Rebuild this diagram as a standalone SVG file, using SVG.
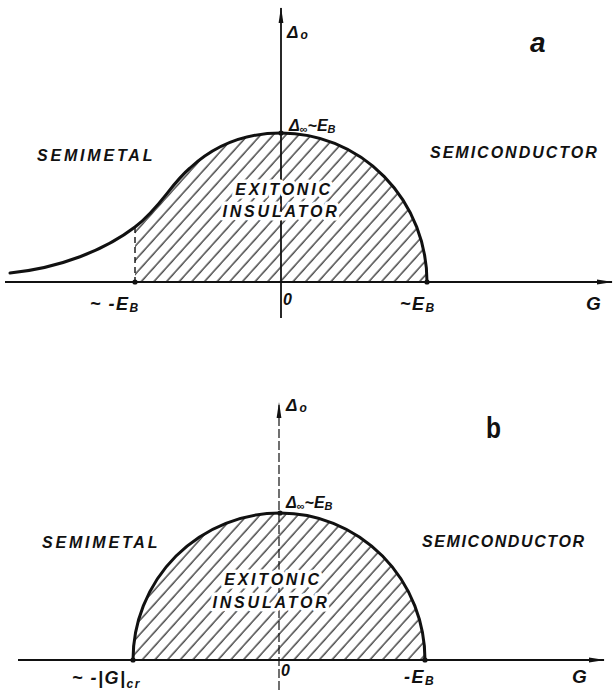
<svg xmlns="http://www.w3.org/2000/svg" width="614" height="695" viewBox="0 0 614 695">
<style>
.t{font-family:"Liberation Sans",Arial,sans-serif;font-weight:bold;font-style:italic;fill:#111}
.reg{font-size:16px;letter-spacing:2.8px}
.halo{stroke:#fff;stroke-width:7px;paint-order:stroke;stroke-linejoin:round}
.ax{stroke:#111;stroke-width:1.8;fill:none}
.cv{stroke:#111;stroke-width:3;fill:none;stroke-linecap:round}
.dot{fill:#111}
.hatch{fill:url(#h)}
</style>
<defs>
<pattern id="h" width="9.4" height="9.4" patternUnits="userSpaceOnUse" patternTransform="rotate(42)">
<line x1="2" y1="0" x2="2" y2="9.4" stroke="#1a1a1a" stroke-width="1.2"/>
</pattern>
<marker id="arr" viewBox="0 0 16 6" markerWidth="16" markerHeight="6" refX="15" refY="3" orient="auto" markerUnits="userSpaceOnUse">
<path d="M0,0.6 L16,3 L0,5.4 Z" fill="#111"/>
</marker>
</defs>
<rect width="614" height="695" fill="#fff"/>

<g id="part-a">
<path class="hatch" d="M135,282 L135,227 C160,208 170,185 190,168 C215,145 245,133 281,133 A146 149 0 0 1 427,282 Z"/>
<g id="axes-a">
<line class="ax" x1="5" y1="282" x2="612" y2="282" marker-end="url(#arr)"/>
<line class="ax" x1="281" y1="318" x2="281" y2="8" marker-end="url(#arr)"/>
<line x1="135" y1="227" x2="135" y2="282" stroke="#111" stroke-width="1.4" stroke-dasharray="6,4"/>
</g>
<text class="t reg halo" x="284" y="195" text-anchor="middle">EXITONIC</text>
<text class="t reg halo" x="281" y="217" text-anchor="middle">INSULATOR</text>
<path id="curve-a" class="cv" d="M10,273 C60,268 105,250 135,227 C160,208 170,185 190,168 C215,145 245,133 281,133 A146 149 0 0 1 427,282"/>
<circle class="dot" cx="135" cy="282" r="2.6"/>
<circle class="dot" cx="281" cy="133" r="2.6"/>
<circle class="dot" cx="427" cy="282" r="2.6"/>
<text class="t" x="287" y="38" font-size="17">Δ<tspan font-size="12" dx="2" dy="1">o</tspan></text>
<text class="t" x="289" y="131" font-size="16">Δ<tspan font-size="11" dy="2">∞</tspan><tspan dy="-2">~E</tspan><tspan font-size="11" dy="2">B</tspan></text>
<text class="t" x="530" y="52" font-size="28">a</text>
<text class="t reg" x="37" y="161">SEMIMETAL</text>
<text class="t reg" x="430" y="158" style="letter-spacing:2px">SEMICONDUCTOR</text>
<text class="t" x="90" y="310" font-size="18" style="letter-spacing:1.5px">~ -E<tspan font-size="12" dy="2">B</tspan></text>
<text class="t" x="283" y="305" font-size="16">0</text>
<text class="t" x="400" y="310" font-size="18" style="letter-spacing:1.5px">~E<tspan font-size="12" dy="2">B</tspan></text>
<text class="t" x="586" y="310" font-size="19">G</text>
</g>

<g id="part-b">
<path class="hatch" d="M133,660 A147 147 0 0 1 280,513 A145 147 0 0 1 425,660 Z"/>
<g id="axes-b">
<line class="ax" x1="18" y1="660" x2="604" y2="660" marker-end="url(#arr)"/>
<line x1="279" y1="690" x2="279" y2="403" stroke="#111" stroke-width="1.2" stroke-dasharray="9,3" marker-end="url(#arr)"/>
</g>
<text class="t reg halo" x="273" y="585" text-anchor="middle">EXITONIC</text>
<text class="t reg halo" x="271" y="608" text-anchor="middle">INSULATOR</text>
<path id="curve-b" class="cv" d="M133,660 A147 147 0 0 1 280,513 A145 147 0 0 1 425,660"/>
<circle class="dot" cx="133" cy="660" r="2.6"/>
<circle class="dot" cx="280" cy="513" r="2.6"/>
<circle class="dot" cx="425" cy="660" r="2.6"/>
<text class="t" x="286" y="411" font-size="17">Δ<tspan font-size="12" dx="2" dy="1">o</tspan></text>
<text class="t" x="286" y="508" font-size="16">Δ<tspan font-size="11" dy="2">∞</tspan><tspan dy="-2">~E</tspan><tspan font-size="11" dy="2">B</tspan></text>
<text x="486" y="438" font-family="Liberation Sans,Arial,sans-serif" font-size="30" font-weight="bold" textLength="15" lengthAdjust="spacingAndGlyphs" fill="#111">b</text>
<text class="t reg" x="42" y="548">SEMIMETAL</text>
<text class="t reg" x="422" y="547" style="letter-spacing:1.6px">SEMICONDUCTOR</text>
<text class="t" x="72" y="684" font-size="18" style="letter-spacing:1.5px">~ -|G|<tspan font-size="12" dy="4">cr</tspan></text>
<text class="t" x="281" y="676" font-size="16">0</text>
<text class="t" x="404" y="683" font-size="18" style="letter-spacing:1.5px">-E<tspan font-size="12" dy="2">B</tspan></text>
<text class="t" x="572" y="683" font-size="19">G</text>
</g>
</svg>
